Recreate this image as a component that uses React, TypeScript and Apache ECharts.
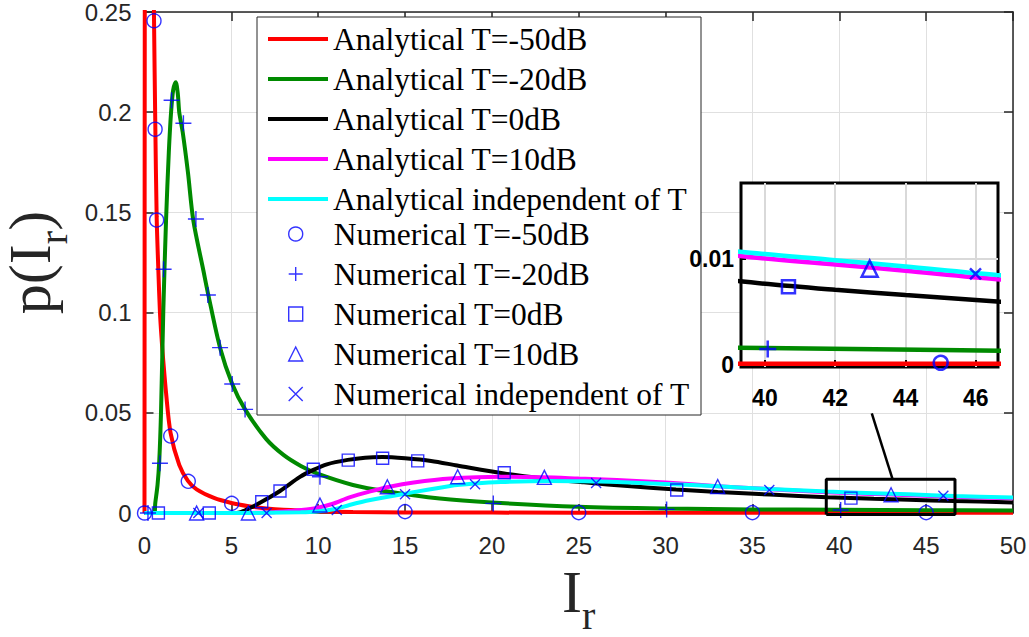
import React, { useEffect, useRef } from 'react';
import * as echarts from 'echarts';

// ---------- data ----------
const anaM50: [number, number][] = [
  [0, 0], [0.02, 0.3], [0.08, 0.6], [0.25, 0.7], [0.4, 0.45], [0.5, 0.29], [0.55, 0.245],
  [0.62, 0.195], [0.7, 0.148], [0.79, 0.123], [0.89, 0.1], [1.0, 0.085], [1.08, 0.076],
  [1.24, 0.06], [1.5, 0.04], [2.0, 0.024], [2.5, 0.016], [3.0, 0.0118], [4.0, 0.0075],
  [5.0, 0.005], [6.0, 0.0034], [7.0, 0.0023], [8.0, 0.0016], [10, 0.0009], [12, 0.0005],
  [15, 0.0003], [20, 0.0002], [30, 0.0001], [50, 0.0001],
];
const anaM20: [number, number][] = [
  [0, 0], [0.55, 0], [0.62, 0.005], [0.75, 0.014], [0.85, 0.026], [0.95, 0.05], [1.08, 0.1],
  [1.24, 0.146], [1.4, 0.18], [1.53, 0.2], [1.65, 0.211], [1.8, 0.215], [1.92, 0.209],
  [2.0, 0.2], [2.2, 0.19], [2.5, 0.17], [2.81, 0.146], [3.39, 0.121], [3.67, 0.109],
  [4.35, 0.0825], [5.05, 0.0644], [5.79, 0.0517], [7.0, 0.037], [8.0, 0.029], [9.0, 0.0235],
  [10, 0.0195], [12, 0.014], [14, 0.0107], [17, 0.0072], [20, 0.0052], [25, 0.0031],
  [30, 0.0022], [35, 0.0018], [40, 0.0016], [45, 0.0014], [50, 0.0012],
];
const ana0: [number, number][] = [
  [0, 0], [5.3, 0], [6.0, 0.0022], [6.75, 0.0056], [7.8, 0.011], [8.95, 0.018], [9.72, 0.0215],
  [10.5, 0.0243], [11.7, 0.0265], [12.7, 0.0276], [13.7, 0.0279], [15, 0.0273], [16.5, 0.026],
  [18, 0.0237], [20.7, 0.0197], [23, 0.0172], [25.3, 0.0153], [28, 0.0133], [30.6, 0.0117],
  [33, 0.0105], [36, 0.0092], [39.3, 0.0079], [42, 0.0071], [44, 0.0066], [46.6, 0.006],
  [50, 0.0053],
];
const ana10: [number, number][] = [
  [0, 0], [5.5, 0], [7, 0.0003], [8, 0.0008], [9, 0.0015], [9.9, 0.0025], [10.8, 0.0045],
  [11.8, 0.0078], [13, 0.0108], [14.1, 0.0131], [15.5, 0.0152], [17.6, 0.0172], [20.5, 0.0181],
  [23, 0.0178], [25, 0.0172], [27.2, 0.0165], [30, 0.0152], [33, 0.0134], [36, 0.0119],
  [39.3, 0.0103], [42, 0.0095], [44, 0.0089], [46.6, 0.0081], [50, 0.0073],
];
const anaInd: [number, number][] = [
  [0, 0], [5, 0], [7, 0.0001], [9, 0.0004], [9.9, 0.0008], [11, 0.002], [11.8, 0.004],
  [13, 0.0065], [15.1, 0.0098], [17.6, 0.0135], [19, 0.0147], [20.5, 0.0155], [23.3, 0.016],
  [26, 0.0157], [27.2, 0.0155], [30, 0.0145], [33, 0.0133], [36, 0.012], [39.3, 0.0107],
  [42, 0.0099], [44, 0.0093], [46.6, 0.0085], [50, 0.0077],
];
const numM50: [number, number][] = [
  [0, 0], [0.547, 0.2456], [0.61, 0.1915], [0.7, 0.1462], [1.51, 0.0384], [2.52, 0.0158],
  [5.02, 0.0048], [15, 0.0007], [25, 0.0002], [35, 0.0002], [45, 0.0002],
];
const numM20: [number, number][] = [
  [0.2, 0], [0.89, 0.0248], [1.1, 0.1216], [1.56, 0.206], [2.24, 0.1945], [2.96, 0.1467],
  [3.65, 0.1088], [4.35, 0.0825], [5.05, 0.0644], [5.79, 0.0517], [10.1, 0.0181],
  [20.08, 0.0048], [30.06, 0.0018], [40.08, 0.0015],
];
const num0: [number, number][] = [
  [0.8, 0], [3.73, 0], [6.75, 0.0056], [7.8, 0.011], [9.72, 0.0218], [11.73, 0.0264],
  [13.71, 0.0273], [15.73, 0.026], [20.71, 0.0201], [30.64, 0.0115], [40.67, 0.0074],
];
const num10: [number, number][] = [
  [3.0, 0], [5.98, 0], [10.1, 0.004], [13.98, 0.0131], [18.03, 0.0181], [23.02, 0.0178],
  [33.0, 0.0132], [42.98, 0.0091],
];
const numInd: [number, number][] = [
  [3.1, 0], [7.03, 0], [11.07, 0.0015], [15.0, 0.0093], [19.03, 0.0143], [26.0, 0.015],
  [35.97, 0.0115], [45.99, 0.0086],
];

const xTicks = { min: 0, max: 50, step: 5 };
const yTicks = { min: 0, max: 0.25, step: 0.05 };
const insetX = { min: 39.32, max: 46.63, labels: [40, 42, 44, 46] };
const insetY = { min: -0.0002, max: 0.0172, labels: [0, 0.01] };
const zoomBoxX = [39.25, 46.66];
const zoomBoxY = [-0.0007, 0.0168];
const connector: [number, number][] = [[43.07, 0.0168], [41.87, 0.0497]];

const lineNames = [
  'Analytical T=-50dB', 'Analytical T=-20dB', 'Analytical T=0dB', 'Analytical T=10dB',
  'Analytical independent of T',
];
const markNames = [
  'Numerical T=-50dB', 'Numerical T=-20dB', 'Numerical T=0dB', 'Numerical T=10dB',
  'Numerical independent of T',
];
const lineData = [anaM50, anaM20, ana0, ana10, anaInd];
const lineColors = ['#ff0000', '#008a00', '#000000', '#ff00ff', '#00ffff'];
const markData = [numM50, numM20, num0, num10, numInd];
const PLUS = 'path://M5,0L5,10M0,5L10,5';
const CROSS = 'path://M0,0L10,10M10,0L0,10';
const markSymbols = ['circle', PLUS, 'rect', 'triangle', CROSS];
const markSizes = [14, 16, 12, 14, 10];
const insetMarkSizes = [14, 17, 13, 16, 11];
const BLUE = '#0000ff';

const SANS = 'Liberation Sans, Arial, sans-serif';
const SERIF = 'Liberation Serif, Times New Roman, serif';

export default function App() {
  const ref = useRef<HTMLDivElement>(null);
  useEffect(() => {
    if (!ref.current) return;
    const chart = echarts.init(ref.current, undefined, { renderer: 'svg' });
    const axisCol = '#262626';

    const series: any[] = [];
    lineData.forEach((d, i) => {
      series.push({
        type: 'line', name: lineNames[i], data: d, xAxisIndex: 0, yAxisIndex: 0,
        symbol: 'none', smooth: 0.3, clip: true, z: 2,
        lineStyle: { color: lineColors[i], width: 4 }, itemStyle: { color: lineColors[i] },
      });
    });
    markData.forEach((d, i) => {
      series.push({
        type: 'scatter', name: markNames[i], data: d, xAxisIndex: 0, yAxisIndex: 0,
        symbol: markSymbols[i], symbolSize: markSizes[i], z: 3,
        itemStyle: { color: 'rgba(0,0,0,0)', borderColor: BLUE, borderWidth: 1.4 },
      });
    });
    // zoom indicator box + connector on the main axes
    series.push({
      type: 'line', name: 'zoomBox', xAxisIndex: 0, yAxisIndex: 0, symbol: 'none', clip: false, z: 4,
      data: [[zoomBoxX[0], zoomBoxY[0]], [zoomBoxX[1], zoomBoxY[0]], [zoomBoxX[1], zoomBoxY[1]],
        [zoomBoxX[0], zoomBoxY[1]], [zoomBoxX[0], zoomBoxY[0]]],
      lineStyle: { color: '#000', width: 3 },
    });
    series.push({
      type: 'line', name: 'zoomLink', xAxisIndex: 0, yAxisIndex: 0, symbol: 'none', clip: false, z: 4,
      data: connector, lineStyle: { color: '#000', width: 2.5 },
    });
    // inset
    lineData.forEach((d, i) => {
      series.push({
        type: 'line', name: lineNames[i], data: d, xAxisIndex: 2, yAxisIndex: 2,
        symbol: 'none', smooth: 0.3, clip: true, z: 6,
        lineStyle: { color: lineColors[i], width: 4.5 }, itemStyle: { color: lineColors[i] },
      });
    });
    markData.forEach((d, i) => {
      series.push({
        type: 'scatter', name: markNames[i], data: d, xAxisIndex: 2, yAxisIndex: 2,
        symbol: markSymbols[i], symbolSize: insetMarkSizes[i], z: 7, clip: true,
        itemStyle: { color: 'rgba(0,0,0,0)', borderColor: BLUE, borderWidth: 2.5 },
      });
    });

    const legendText = { fontFamily: SERIF, fontSize: 31.5, lineHeight: 31, color: '#000' };
    const nameRich = {
      i: { fontFamily: SERIF, fontSize: 60, lineHeight: 60, color: '#262626', verticalAlign: 'top' },
      r: { fontFamily: SERIF, fontSize: 40, lineHeight: 40, color: '#262626', verticalAlign: 'top',
        padding: [34, 0, 0, 0] },
    };

    chart.setOption({
      animation: false,
      backgroundColor: '#fff',
      grid: [
        { left: 144.5, right: 16, top: 12, bottom: 124, containLabel: false, outerBoundsMode: 'none' },
        { left: 741, top: 183, width: 257, height: 184, show: true, backgroundColor: '#fff',
          borderColor: '#000', borderWidth: 3, z: 5, containLabel: false, outerBoundsMode: 'none' },
      ],
      graphic: [
        { type: 'rect', z: 1, shape: { x: 257, y: 17, width: 444, height: 398 },
          style: { fill: '#fff', stroke: '#262626', lineWidth: 1 } },
      ],
      legend: [
        {
          data: lineNames, orient: 'vertical', left: 266, top: 23, padding: 0,
          itemWidth: 60, itemHeight: 14, itemGap: 8, textStyle: legendText,
          lineStyle: { width: 4 }, itemStyle: { opacity: 0 }, z: 10,
        },
        {
          data: markNames, orient: 'vertical', left: 288, top: 218, padding: 0,
          itemWidth: 14, itemHeight: 14, itemGap: 8,
          textStyle: { ...legendText, padding: [0, 0, 0, 26] },
          itemStyle: { borderWidth: 1.4 }, z: 10,
        },
      ],
      xAxis: [
        {
          type: 'value', gridIndex: 0, min: xTicks.min, max: xTicks.max, interval: xTicks.step,
          position: 'bottom',
          name: '{i|I}{r|r}', nameLocation: 'middle', nameGap: 48.5,
          nameTextStyle: { rich: nameRich },
          axisLine: { show: true, onZero: false, lineStyle: { color: axisCol, width: 1.5 } },
          axisTick: { inside: true, length: 9, lineStyle: { color: axisCol, width: 1.5 } },
          axisLabel: { fontFamily: SANS, fontSize: 24, color: axisCol, margin: 20 },
          splitLine: { show: true, lineStyle: { color: '#e0e0e0', width: 1 } },
        },
        {
          type: 'value', gridIndex: 0, min: xTicks.min, max: xTicks.max, interval: xTicks.step,
          position: 'top',
          axisLine: { show: true, onZero: false, lineStyle: { color: axisCol, width: 1.5 } },
          axisTick: { inside: true, length: 9, lineStyle: { color: axisCol, width: 1.5 } },
          axisLabel: { show: false }, splitLine: { show: false },
        },
        {
          type: 'value', gridIndex: 1, min: insetX.min, max: insetX.max, z: 6,
          position: 'bottom',
          axisLine: { show: false },
          axisTick: { show: true, inside: true, length: 5, customValues: insetX.labels,
            lineStyle: { color: '#000', width: 2 } },
          axisLabel: { show: true, customValues: insetX.labels, fontFamily: SANS, fontWeight: 'bold',
            fontSize: 23, color: '#000', margin: 19 },
          splitLine: { show: true, lineStyle: { color: '#d9d9d9', width: 2 } },
        },
      ],
      yAxis: [
        {
          type: 'value', gridIndex: 0, min: yTicks.min, max: yTicks.max, interval: yTicks.step,
          position: 'left',
          name: '{i|p(I}{r|r}{i|)}', nameLocation: 'middle', nameGap: 61, nameRotate: 90,
          nameTextStyle: { rich: nameRich },
          axisLine: { show: true, onZero: false, lineStyle: { color: axisCol, width: 1.5 } },
          axisTick: { inside: true, length: 9, lineStyle: { color: axisCol, width: 1.5 } },
          axisLabel: { fontFamily: SANS, fontSize: 24, color: axisCol, margin: 13 },
          splitLine: { show: true, lineStyle: { color: '#e0e0e0', width: 1 } },
        },
        {
          type: 'value', gridIndex: 0, min: yTicks.min, max: yTicks.max, interval: yTicks.step,
          position: 'right',
          axisLine: { show: true, onZero: false, lineStyle: { color: axisCol, width: 1.5 } },
          axisTick: { inside: true, length: 9, lineStyle: { color: axisCol, width: 1.5 } },
          axisLabel: { show: false }, splitLine: { show: false },
        },
        {
          type: 'value', gridIndex: 1, min: insetY.min, max: insetY.max, z: 6,
          position: 'left',
          axisLine: { show: false },
          axisTick: { show: true, inside: true, length: 5, customValues: insetY.labels,
            lineStyle: { color: '#000', width: 2 } },
          axisLabel: { show: true, customValues: insetY.labels, fontFamily: SANS, fontWeight: 'bold',
            fontSize: 23, color: '#000', margin: 7 },
          splitLine: { show: true, lineStyle: { color: '#d9d9d9', width: 2 } },
        },
      ],
      series,
    });
    return () => chart.dispose();
  }, []);
  return <div ref={ref} style={{ width: 1029, height: 637, position: 'absolute', left: 0, top: 0 }} />;
}
